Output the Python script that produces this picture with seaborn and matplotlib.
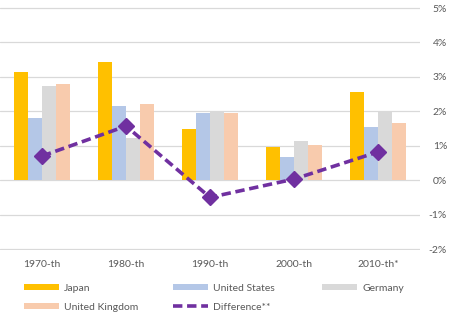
import matplotlib
matplotlib.use("Agg")
import matplotlib.pyplot as plt
from matplotlib.lines import Line2D
from matplotlib.patches import Patch
import seaborn as sns
import pandas as pd
import numpy as np

decades = ["1970-th", "1980-th", "1990-th", "2000-th", "2010-th*"]
japan = [3.15, 3.44, 1.49, 0.96, 2.56]
united_states = [1.81, 2.16, 1.95, 0.67, 1.54]
germany = [2.74, 1.22, 2.00, 1.14, 2.00]
united_kingdom = [2.80, 2.21, 1.95, 1.01, 1.66]
difference = [0.70, 1.57, -0.50, 0.03, 0.82]

series_names = ["Japan", "United States", "Germany", "United Kingdom"]
colors = ["#FFC000", "#B4C7E7", "#D9D9D9", "#F8CBAD"]
diff_color = "#7030A0"
text_color = "#595959"

rows = []
for name, vals in zip(series_names, [japan, united_states, germany, united_kingdom]):
    for d, v in zip(decades, vals):
        rows.append({"decade": d, "country": name, "value": v})
df = pd.DataFrame(rows)
df_diff = pd.DataFrame({"decade": decades, "value": difference})

sns.set_theme(style="white")
plt.rcParams["font.family"] = ["Lato", "DejaVu Sans"]

W, H = 454, 324
fig = plt.figure(figsize=(W / 100, H / 100), dpi=100)
# axes spans y from -2.03 to 5.03
px_per = (249 - 8) / 7.0
top_px = 8 - 0.03 * px_per
bot_px = 249 + 0.03 * px_per
ax = fig.add_axes([0 / W, 1 - bot_px / H, 420 / W, (bot_px - top_px) / H])

sns.barplot(data=df, x="decade", y="value", hue="country", palette=colors,
            hue_order=series_names, order=decades, width=0.655, ax=ax,
            saturation=1, legend=False, zorder=2, linewidth=0)

dash = (0, (2.6, 1.3))
x_idx = np.arange(len(decades))
ax.plot(x_idx, df_diff["value"], color=diff_color, linestyle=dash,
        linewidth=2.6, marker="D", markersize=8, zorder=4)

ax.set_xlim(-0.5, 4.5)
ax.set_ylim(-2.03, 5.03)
ax.set_yticks(range(-2, 6))
ax.yaxis.tick_right()
ax.set_yticklabels([f"{v}%" for v in range(-2, 6)], fontsize=7.5, color=text_color)
for lbl in ax.get_yticklabels():
    lbl.set_horizontalalignment("right")
ax.tick_params(axis="y", length=0, pad=19.5)
ax.tick_params(axis="x", length=0, pad=7, labelsize=7.5, labelcolor=text_color)
ax.set_xlabel("")
ax.set_ylabel("")
ax.grid(axis="y", color="#D9D9D9", linewidth=0.9, zorder=0)
ax.set_axisbelow(True)
for s in ax.spines.values():
    s.set_visible(False)

patch = {n: Patch(facecolor=c, edgecolor="none") for n, c in zip(series_names, colors)}
diff_handle = Line2D([0], [0], color=diff_color, linestyle=dash, linewidth=2.6)
columns = [
    ([patch["Japan"], patch["United Kingdom"]], ["Japan", "United Kingdom"], 24),
    ([patch["United States"], diff_handle], ["United States", "Difference**"], 173),
    ([patch["Germany"]], ["Germany"], 322),
]
for hs, ls, xpx in columns:
    leg = fig.legend(hs, ls, loc="upper left", bbox_to_anchor=(xpx / W, 1 - 284 / H),
                     ncol=1, frameon=False, fontsize=7.5, labelcolor=text_color,
                     handlelength=3.4, handleheight=0.55, handletextpad=0.45,
                     labelspacing=0.95, borderaxespad=0, borderpad=0)

fig.savefig("out.png", dpi=100)
